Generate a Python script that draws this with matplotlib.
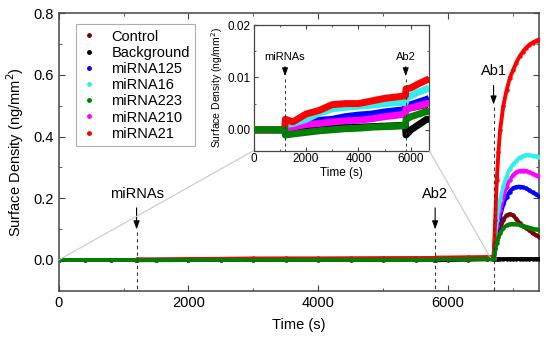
import matplotlib
matplotlib.use("Agg")
import matplotlib.pyplot as plt
from matplotlib.lines import Line2D
from matplotlib.patches import ConnectionPatch

plt.rcParams['font.family'] = ['Liberation Sans', 'DejaVu Sans']

# time points (s): baseline up to Ab1, then the Ab1 response
t_base = [0, 400, 800, 1190, 1210, 1500, 2000, 2500, 3000, 3500, 4000, 4500,
          5000, 5500, 5790, 5810, 6000, 6300, 6600, 6690]
t_ab1 = [6700, 6710, 6725, 6750, 6775, 6800, 6850, 6900, 6950, 7000, 7050,
         7100, 7150, 7200, 7250, 7300, 7350, 7400]
time_s = t_base + t_ab1

control = [0, 0, 0, 0, 0.0002, 0.0006, 0.0012, 0.0015, 0.0018, 0.002, 0.0022, 0.0025,
           0.0028, 0.003, 0.0032, 0.004, 0.0042, 0.0045, 0.0048, 0.0045] + \
          [0.004, 0.02, 0.04, 0.065, 0.085, 0.10, 0.13, 0.145, 0.149, 0.145, 0.133,
           0.12, 0.111, 0.104, 0.096, 0.087, 0.081, 0.076]
background = [0, 0, 0, 0, 0.0, 0.0, 0.0002, 0.0003, 0.0004, 0.0005, 0.0005, 0.0006,
              0.0007, 0.0008, 0.0008, -0.001, 0.0, 0.001, 0.002, 0.002] + \
             [0.002, 0.003, 0.003, 0.003, 0.003, 0.003, 0.003, 0.003, 0.003, 0.003, 0.003,
              0.003, 0.003, 0.003, 0.003, 0.003, 0.003, 0.003]
mirna125 = [0, 0, 0, 0, 0.0003, 0.0008, 0.0015, 0.0018, 0.002, 0.0025, 0.0028, 0.003,
            0.0034, 0.0037, 0.0038, 0.0045, 0.0048, 0.0053, 0.0058, 0.006] + \
           [0.006, 0.03, 0.06, 0.087, 0.115, 0.14, 0.18, 0.205, 0.222, 0.233, 0.237,
            0.238, 0.236, 0.232, 0.226, 0.219, 0.213, 0.207]
mirna16 = [0, 0, 0, 0, 0.001, 0.0012, 0.002, 0.0032, 0.004, 0.0043, 0.0045, 0.0047,
           0.005, 0.0052, 0.0052, 0.006, 0.0065, 0.0072, 0.0078, 0.008] + \
          [0.008, 0.04, 0.08, 0.13, 0.165, 0.195, 0.24, 0.27, 0.295, 0.31, 0.322,
           0.332, 0.337, 0.34, 0.34, 0.338, 0.336, 0.334]
mirna223 = [0, 0, 0, 0, -0.001, -0.0008, -0.0005, -0.0002, 0.0, 0.0002, 0.0003, 0.0005,
            0.0006, 0.0007, 0.0008, 0.002, 0.0025, 0.003, 0.0035, 0.0035] + \
           [0.003, 0.02, 0.035, 0.055, 0.073, 0.087, 0.103, 0.112, 0.116, 0.117, 0.116,
            0.114, 0.111, 0.108, 0.105, 0.102, 0.099, 0.097]
mirna210 = [0, 0, 0, 0, 0.0, 0.0005, 0.001, 0.0012, 0.0015, 0.0017, 0.0018, 0.0021,
            0.0025, 0.0028, 0.003, 0.004, 0.0042, 0.0046, 0.005, 0.005] + \
           [0.005, 0.035, 0.07, 0.11, 0.14, 0.162, 0.205, 0.238, 0.26, 0.275, 0.284,
            0.289, 0.29, 0.289, 0.285, 0.28, 0.275, 0.27]
mirna21 = [0, 0, 0, 0, 0.002, 0.0015, 0.003, 0.0037, 0.0048, 0.005, 0.005, 0.0055,
           0.006, 0.0063, 0.0065, 0.0078, 0.008, 0.0088, 0.0095, 0.0097] + \
          [0.01, 0.05, 0.13, 0.26, 0.35, 0.42, 0.50, 0.55, 0.59, 0.615, 0.64,
           0.66, 0.675, 0.688, 0.698, 0.705, 0.71, 0.715]

labels = ["Control", "Background", "miRNA125", "miRNA16", "miRNA223", "miRNA210", "miRNA21"]
series = [control, background, mirna125, mirna16, mirna223, mirna210, mirna21]
colors = ["#800000", "#000000", "#0000ff", "#33eeee", "#008000", "#ff00ff", "#ff0000"]
draw_order = [1, 0, 2, 5, 3, 6, 4]

events = {"miRNAs": 1200, "Ab2": 5800, "Ab1": 6700}

frame_col = "#444444"

fig = plt.figure(figsize=(5.5, 3.41), dpi=100)
ax = fig.add_axes([0.1067, 0.1472, 0.8733, 0.8138])

for i in draw_order:
    ax.plot(time_s, series[i], color=colors[i], lw=2.8, marker='o', ms=2.2,
            solid_capstyle='round', zorder=3 + draw_order.index(i))

ax.set_xlim(0, 7400)
ax.set_ylim(-0.1, 0.8)
ax.set_xticks([0, 2000, 4000, 6000])
ax.set_xticks([1000, 3000, 5000, 7000], minor=True)
ax.set_yticks([0.0, 0.2, 0.4, 0.6, 0.8])
ax.set_yticks([0.1, 0.3, 0.5, 0.7], minor=True)
ax.set_yticklabels(["0.0", "0.2", "0.4", "0.6", "0.8"])
ax.tick_params(which='both', direction='in', top=True, right=True, labelsize=10.5,
               color=frame_col)
ax.tick_params(which='major', length=4)
ax.tick_params(which='minor', length=2.5)
for s in ax.spines.values():
    s.set_color(frame_col)
    s.set_linewidth(1.1)
ax.set_xlabel("Time (s)", fontsize=10.5, labelpad=6)
ax.set_ylabel("Surface Density (ng/mm$^2$)", fontsize=10.5, labelpad=5)


def mark_event(a, name, t, y_text, y_tail, y_tip, y_bot, fs, lw):
    a.text(t, y_text, name, ha='center', va='center', fontsize=fs, zorder=20)
    a.annotate('', xy=(t, y_tip), xytext=(t, y_tail),
               arrowprops=dict(arrowstyle='-|>,head_length=0.5,head_width=0.18',
                               color='k', lw=lw), zorder=20)
    a.plot([t, t], [y_tip, y_bot], ls=(0, (3, 3)), color='#333333', lw=lw, zorder=20)


mark_event(ax, "miRNAs", events["miRNAs"], 0.213, 0.178, 0.09, -0.1, 10.5, 0.8)
mark_event(ax, "Ab2", events["Ab2"], 0.213, 0.178, 0.09, -0.1, 10.5, 0.8)
mark_event(ax, "Ab1", events["Ab1"], 0.612, 0.575, 0.495, -0.1, 10.5, 0.8)

handles = [Line2D([], [], ls='none', marker='o', ms=2.5, color=c) for c in colors]
leg = ax.legend(handles, labels, loc='upper left', bbox_to_anchor=(0.02, 0.986),
                fontsize=10.5, frameon=True, fancybox=False, labelspacing=0.15,
                handlelength=1.2, handletextpad=0.9, borderpad=0.35)
leg.get_frame().set_edgecolor('#999999')
leg.get_frame().set_linewidth(0.8)

# inset: zoom on the part before Ab1
n_base = len(t_base)
ins = fig.add_axes([0.461, 0.558, 0.3196, 0.3686])
for i in draw_order:
    ins.plot(t_base, series[i][:n_base], color=colors[i], lw=5, solid_capstyle='butt',
             zorder=3 + draw_order.index(i))
ins.set_xlim(0, 6700)
ins.set_ylim(-0.004, 0.02)
ins.set_xticks([0, 2000, 4000, 6000])
ins.set_xticks([1000, 3000, 5000], minor=True)
ins.set_yticks([0.0, 0.01, 0.02])
ins.set_yticks([0.005, 0.015], minor=True)
ins.set_yticklabels(["0.00", "0.01", "0.02"])
ins.tick_params(which='both', direction='in', top=True, right=True, labelsize=8.5,
                color=frame_col, pad=2)
ins.tick_params(which='major', length=3)
ins.tick_params(which='minor', length=1.5)
for s in ins.spines.values():
    s.set_color(frame_col)
    s.set_linewidth(0.9)
ins.set_xlabel("Time (s)", fontsize=8.5, labelpad=1)
ins.set_ylabel("Surface Density (ng/mm$^2$)", fontsize=7.5, labelpad=2)

mark_event(ins, "miRNAs", events["miRNAs"], 0.0139, 0.0126, 0.0097, -0.004, 8, 0.7)
mark_event(ins, "Ab2", events["Ab2"], 0.0139, 0.0126, 0.0097, -0.004, 8, 0.7)

for xa, xb in [((0, 0), (0, 0)), ((6650, 0.008), (1, 0))]:
    cp = ConnectionPatch(xyA=xa, coordsA=ax.transData, xyB=xb, coordsB=ins.transAxes,
                         color='#c8c8c8', lw=0.8, zorder=2)
    fig.add_artist(cp)

fig.savefig("out.png", dpi=100)
